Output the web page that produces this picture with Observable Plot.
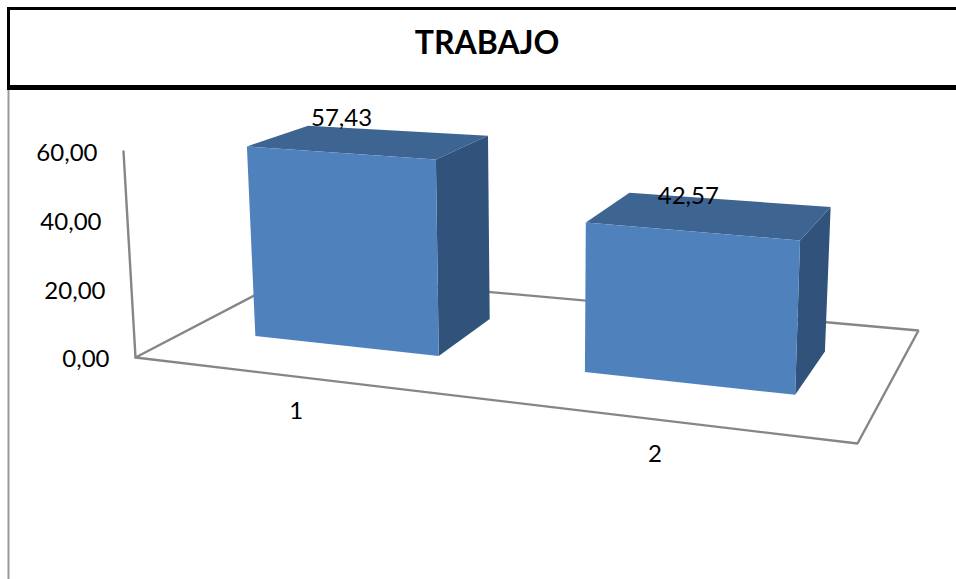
<!DOCTYPE html>
<html lang="es">
<head>
<meta charset="utf-8">
<title>TRABAJO</title>
<script src="https://cdn.jsdelivr.net/npm/d3@7"></script>
<script src="https://cdn.jsdelivr.net/npm/@observablehq/plot@0.6"></script>
<style>
  html, body { margin: 0; padding: 0; background: #fff; overflow: hidden; }
  #title {
    box-sizing: border-box;
    position: absolute;
    left: 7px; top: 7px; width: 949px; height: 83px;
    border-top: 3px solid #000; border-left: 3px solid #000; border-bottom: 5px solid #000;
    padding-left: 8px;
    text-align: center;
    font: 700 32px/63px Lato, sans-serif;
    color: #000;
  }
  #chart { position: absolute; left: 0; top: 90px; }
  svg { display: block; }
</style>
</head>
<body>
<div id="title">TRABAJO</div>
<div id="chart"></div>
<script>
// Series
const categories = ["1", "2"];
const values = [57.43, 42.57];
const valueTicks = [0, 20, 40, 60];
const valueMax = 60;

// Bar footprints on the floor, as fractions of its width and depth
const barSpans = [[0.112, 0.405], [0.618, 0.897]];
const barDepth = [0.308, 0.708];
const labelShift = [[-0.09, -9], [-0.055, -1]];

// Floor quadrilateral of the 3D view: front-left, front-right, back-right, back-left
const [F0, F1, B1, B0] = [[135, 357], [857, 443], [918, 330], [294, 274]];

// Perspective map of the unit square onto the floor
const dx1 = F1[0] - B1[0], dx2 = B0[0] - B1[0], dx3 = F0[0] - F1[0] + B1[0] - B0[0];
const dy1 = F1[1] - B1[1], dy2 = B0[1] - B1[1], dy3 = F0[1] - F1[1] + B1[1] - B0[1];
const den = dx1 * dy2 - dx2 * dy1;
const g = (dx3 * dy2 - dx2 * dy3) / den;
const h = (dx1 * dy3 - dx3 * dy1) / den;
const floor = (u, v) => {
  const w = 1 + g * u + h * v;
  return [
    ((F1[0] - F0[0] + g * F1[0]) * u + (B0[0] - F0[0] + h * B0[0]) * v + F0[0]) / w,
    ((F1[1] - F0[1] + g * F1[1]) * u + (B0[1] - F0[1] + h * B0[1]) * v + F0[1]) / w
  ];
};

// A point above the floor: verticals fan out and grow towards the near right corner
const project = (u, v, value) => {
  const [x, y] = floor(u, v);
  const t = value / valueMax;
  return [x + t * (-12 + 20 * u + 3 * v), y - t * (206 + 24.7 * u - 34.5 * v)];
};

const path = (id, kind, fill, pts) => pts.map(([u, v, val]) => {
  const [x, y] = project(u, v, val);
  return {id, kind, fill, x, y};
});

// Floor outline and value axis
const frame = [
  ...path("floor", "frame", "none", [[0, 0, 0], [1, 0, 0], [1, 1, 0], [0, 1, 0], [0, 0, 0]]),
  ...path("axis", "frame", "none", [[0, 0, 0], [0, 0, valueMax]])
];

// Three visible faces for each bar
const faces = values.flatMap((val, i) => {
  const [u0, u1] = barSpans[i];
  const [v0, v1] = barDepth;
  return [
    ...path(`side${i}`, "side", "#31527A", [[u1, v0, 0], [u1, v1, 0], [u1, v1, val], [u1, v0, val]]),
    ...path(`top${i}`, "top", "#3E6491", [[u0, v0, val], [u1, v0, val], [u1, v1, val], [u0, v1, val]]),
    ...path(`front${i}`, "front", "#4F81BD", [[u0, v0, 0], [u1, v0, 0], [u1, v0, val], [u0, v0, val]])
  ];
});

const comma = (n) => n.toFixed(2).replace(".", ",");
const font = "Lato, sans-serif";

const tickRows = valueTicks.map((t) => {
  const [x, y] = project(0, 0, t);
  return {x, y, text: comma(t)};
});
const categoryRows = categories.map((c, i) => {
  const [x, y] = project((barSpans[i][0] + barSpans[i][1]) / 2, 0, 0);
  return {x, y, text: c};
});
const valueRows = values.map((val, i) => {
  const [x, y] = project((barSpans[i][0] + barSpans[i][1]) / 2 + labelShift[i][0], barDepth[1], val);
  return {x, y: y + labelShift[i][1], text: comma(val)};
});

const chart = Plot.plot({
  width: 956,
  height: 489,
  margin: 0,
  style: {background: "#fff"},
  x: {domain: [0, 956], range: [0, 956], axis: null},
  y: {domain: [90, 579], range: [0, 489], axis: null},
  marks: [
    // Left edge of the chart area
    Plot.ruleX([8], {stroke: "#9a9a9a", strokeWidth: 2}),
    Plot.line(frame, {x: "x", y: "y", z: "id", stroke: "#868686", strokeWidth: 2.4, strokeLinejoin: "miter"}),
    Plot.line(faces, {x: "x", y: "y", z: "id", fill: "fill", stroke: "none", curve: "linear-closed"}),
    Plot.text(tickRows, {x: "x", y: "y", text: "text", dx: -26, dy: 2, textAnchor: "end", fontSize: 24, fontFamily: font, fill: "#000"}),
    Plot.text(categoryRows, {x: "x", y: "y", text: "text", dy: 35, fontSize: 24, fontFamily: font, fill: "#000"}),
    Plot.text(valueRows, {x: "x", y: "y", text: "text", fontSize: 24, fontFamily: font, fill: "#000"})
  ]
});
document.getElementById("chart").appendChild(chart);
</script>
</body>
</html>
